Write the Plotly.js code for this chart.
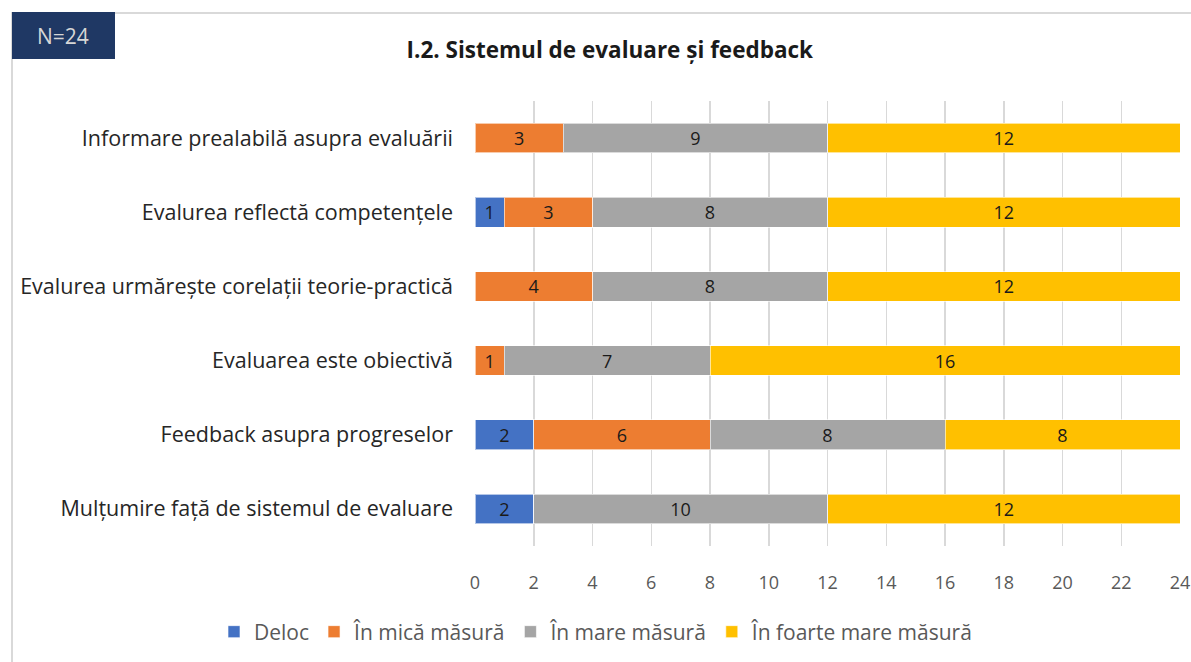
<!DOCTYPE html>
<html>
<head>
<meta charset="utf-8">
<script src="https://cdn.plot.ly/plotly-3.0.1.min.js"></script>
<style>
html,body{margin:0;padding:0;background:#fff;}
#chart{width:1191px;height:662px;}
</style>
</head>
<body>
<div id="chart"></div>
<script>
const categories = [
  "Informare prealabilă asupra evaluării",
  "Evalurea reflectă competențele",
  "Evalurea urmărește corelații teorie-practică",
  "Evaluarea este obiectivă",
  "Feedback asupra progreselor",
  "Mulțumire față de sistemul de evaluare"
];
const seriesNames = ["Deloc", "În mică măsură", "În mare măsură", "În foarte mare măsură"];
const deloc = [0, 1, 0, 0, 2, 2];
const mica = [3, 3, 4, 1, 6, 0];
const mare = [9, 8, 8, 7, 8, 10];
const foarteMare = [12, 12, 12, 16, 8, 12];
const colors = ["#4472C4", "#ED7D31", "#A5A5A5", "#FFC000"];
const xTicks = [0, 2, 4, 6, 8, 10, 12, 14, 16, 18, 20, 22, 24];

const FONT = "'Open Sans', 'Noto Sans', sans-serif";
const allSeries = [deloc, mica, mare, foarteMare];
const traces = allSeries.map((vals, i) => ({
  type: 'bar',
  orientation: 'h',
  name: seriesNames[i],
  y: categories,
  x: vals,
  text: vals.map(v => v ? String(v) : ''),
  textposition: 'inside',
  insidetextanchor: 'middle',
  textangle: 0,
  constraintext: 'none',
  textfont: {family: FONT, size: 18, color: '#1a1a1a'},
  hoverinfo: 'name+x',
  marker: {color: colors[i], line: {color: 'rgba(255,255,255,0.6)', width: 1}}
}));

// plot area in px: x 475..1180, y 101..546
const L = 475, R = 1180, T = 101, B = 546;
const px = x => (x - L) / (R - L);
const py = y => (B - y) / (B - T);

const layout = {
  width: 1191, height: 662,
  margin: {l: L, r: 1191 - R, t: T, b: 662 - B, autoexpand: false},
  barmode: 'stack',
  bargap: 0.6,
  paper_bgcolor: '#fff',
  plot_bgcolor: '#fff',
  font: {family: FONT, color: '#595959'},
  title: {
    text: '<b>I.2. Sistemul de evaluare și feedback</b>',
    font: {family: FONT, size: 22.5, color: '#1a1a1a'},
    xref: 'container', x: 0.512, xanchor: 'center',
    yref: 'container', y: 1 - 50/662, yanchor: 'middle'
  },
  xaxis: {
    range: [0, 24],
    tickvals: xTicks,
    ticktext: xTicks.map(String),
    showgrid: true,
    gridcolor: '#d9d9d9',
    gridwidth: 1.5,
    zeroline: false,
    showline: false,
    ticks: '',
    ticklabelstandoff: 24,
    tickfont: {family: FONT, size: 18, color: '#595959'},
    fixedrange: true
  },
  yaxis: {
    autorange: 'reversed',
    showgrid: false,
    zeroline: false,
    showline: false,
    ticks: '',
    ticklabelstandoff: 21,
    tickfont: {family: FONT, size: 21.5, color: '#262626'},
    fixedrange: true
  },
  legend: {
    orientation: 'h',
    xref: 'paper', x: px(214), xanchor: 'left',
    yref: 'paper', y: py(632), yanchor: 'middle',
    font: {family: FONT, size: 21, color: '#595959'},
    itemwidth: 30,
    tracegroupgap: 0,
    traceorder: 'normal'
  },
  shapes: [
    {type: 'rect', xref: 'paper', yref: 'paper',
     x0: px(12), x1: px(1200), y0: py(680), y1: py(13),
     line: {color: '#d9d9d9', width: 2}, fillcolor: 'rgba(0,0,0,0)', layer: 'below'},
    {type: 'rect', xref: 'paper', yref: 'paper',
     x0: px(12), x1: px(115), y0: py(59), y1: py(12),
     line: {width: 0}, fillcolor: '#1F3864', layer: 'above'}
  ],
  annotations: [
    {text: 'N=24', xref: 'paper', yref: 'paper', x: px(63), y: py(36),
     xanchor: 'center', yanchor: 'middle', showarrow: false,
     font: {family: FONT, size: 21, color: '#d6d6d6'}}
  ]
};

Plotly.newPlot('chart', traces, layout, {displayModeBar: false, staticPlot: true});
</script>
</body>
</html>
